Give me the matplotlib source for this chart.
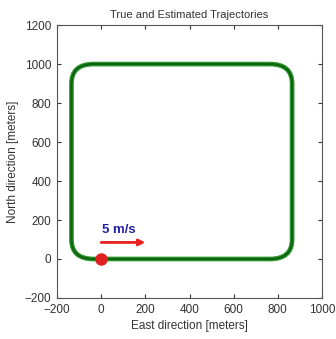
import matplotlib
matplotlib.use('Agg')
import matplotlib.pyplot as plt
from matplotlib.path import Path
from matplotlib.patches import PathPatch

# trajectory corners (meters) and turn radius
east_min, east_max = -135, 865
north_min, north_max = 0, 1000
turn_radius = 100
start_point = (0, 0)

# speed arrow
arrow_start = (0, 85)
arrow_end = (200, 85)
arrow_label = '5 m/s'

x_ticks = [-200, 0, 200, 400, 600, 800, 1000]
y_ticks = [-200, 0, 200, 400, 600, 800, 1000, 1200]

plt.rcParams['font.family'] = ['Liberation Sans', 'DejaVu Sans']

fig = plt.figure(figsize=(3.36, 3.39), dpi=100)
ax = fig.add_axes([0.170, 0.121, 0.788, 0.805])

r = turn_radius
verts = [
    start_point,
    (east_max - r, north_min),
    (east_max, north_min), (east_max, north_min + r),
    (east_max, north_max - r),
    (east_max, north_max), (east_max - r, north_max),
    (east_min + r, north_max),
    (east_min, north_max), (east_min, north_max - r),
    (east_min, north_min + r),
    (east_min, north_min), (east_min + r, north_min),
    start_point,
]
codes = [Path.MOVETO, Path.LINETO, Path.CURVE3, Path.CURVE3, Path.LINETO,
         Path.CURVE3, Path.CURVE3, Path.LINETO, Path.CURVE3, Path.CURVE3,
         Path.LINETO, Path.CURVE3, Path.CURVE3, Path.LINETO]
path = Path(verts, codes)

# true trajectory (wide) and estimate on top
ax.add_patch(PathPatch(path, fill=False, edgecolor='#2e962e', lw=3.4))
ax.add_patch(PathPatch(path, fill=False, edgecolor='#0e640e', lw=1.6))

ax.plot(*start_point, 'o', color='#e02020', markersize=8, zorder=5)

ax.annotate('', xy=arrow_end, xytext=arrow_start,
            arrowprops=dict(arrowstyle='-|>', color='#e82020', lw=2,
                            mutation_scale=9, shrinkA=0, shrinkB=0))
ax.text(5, 118, arrow_label, color='#2020a0', fontsize=9.5, fontweight='bold',
        ha='left', va='bottom')

ax.set_xlim(-200, 1000)
ax.set_ylim(-200, 1200)
ax.set_xticks(x_ticks)
ax.set_yticks(y_ticks)
ax.tick_params(direction='in', top=True, right=True, labelsize=8.5, length=3,
               colors='#333333', pad=4)
for s in ax.spines.values():
    s.set_color('#555555')
    s.set_linewidth(0.8)

ax.set_title('True and Estimated Trajectories', fontsize=8, color='#333333', pad=5)
ax.set_xlabel('East direction [meters]', fontsize=8.5, color='#333333', labelpad=3)
ax.set_ylabel('North direction [meters]', fontsize=8.5, color='#333333', labelpad=4)

fig.savefig('out.png', dpi=100)
